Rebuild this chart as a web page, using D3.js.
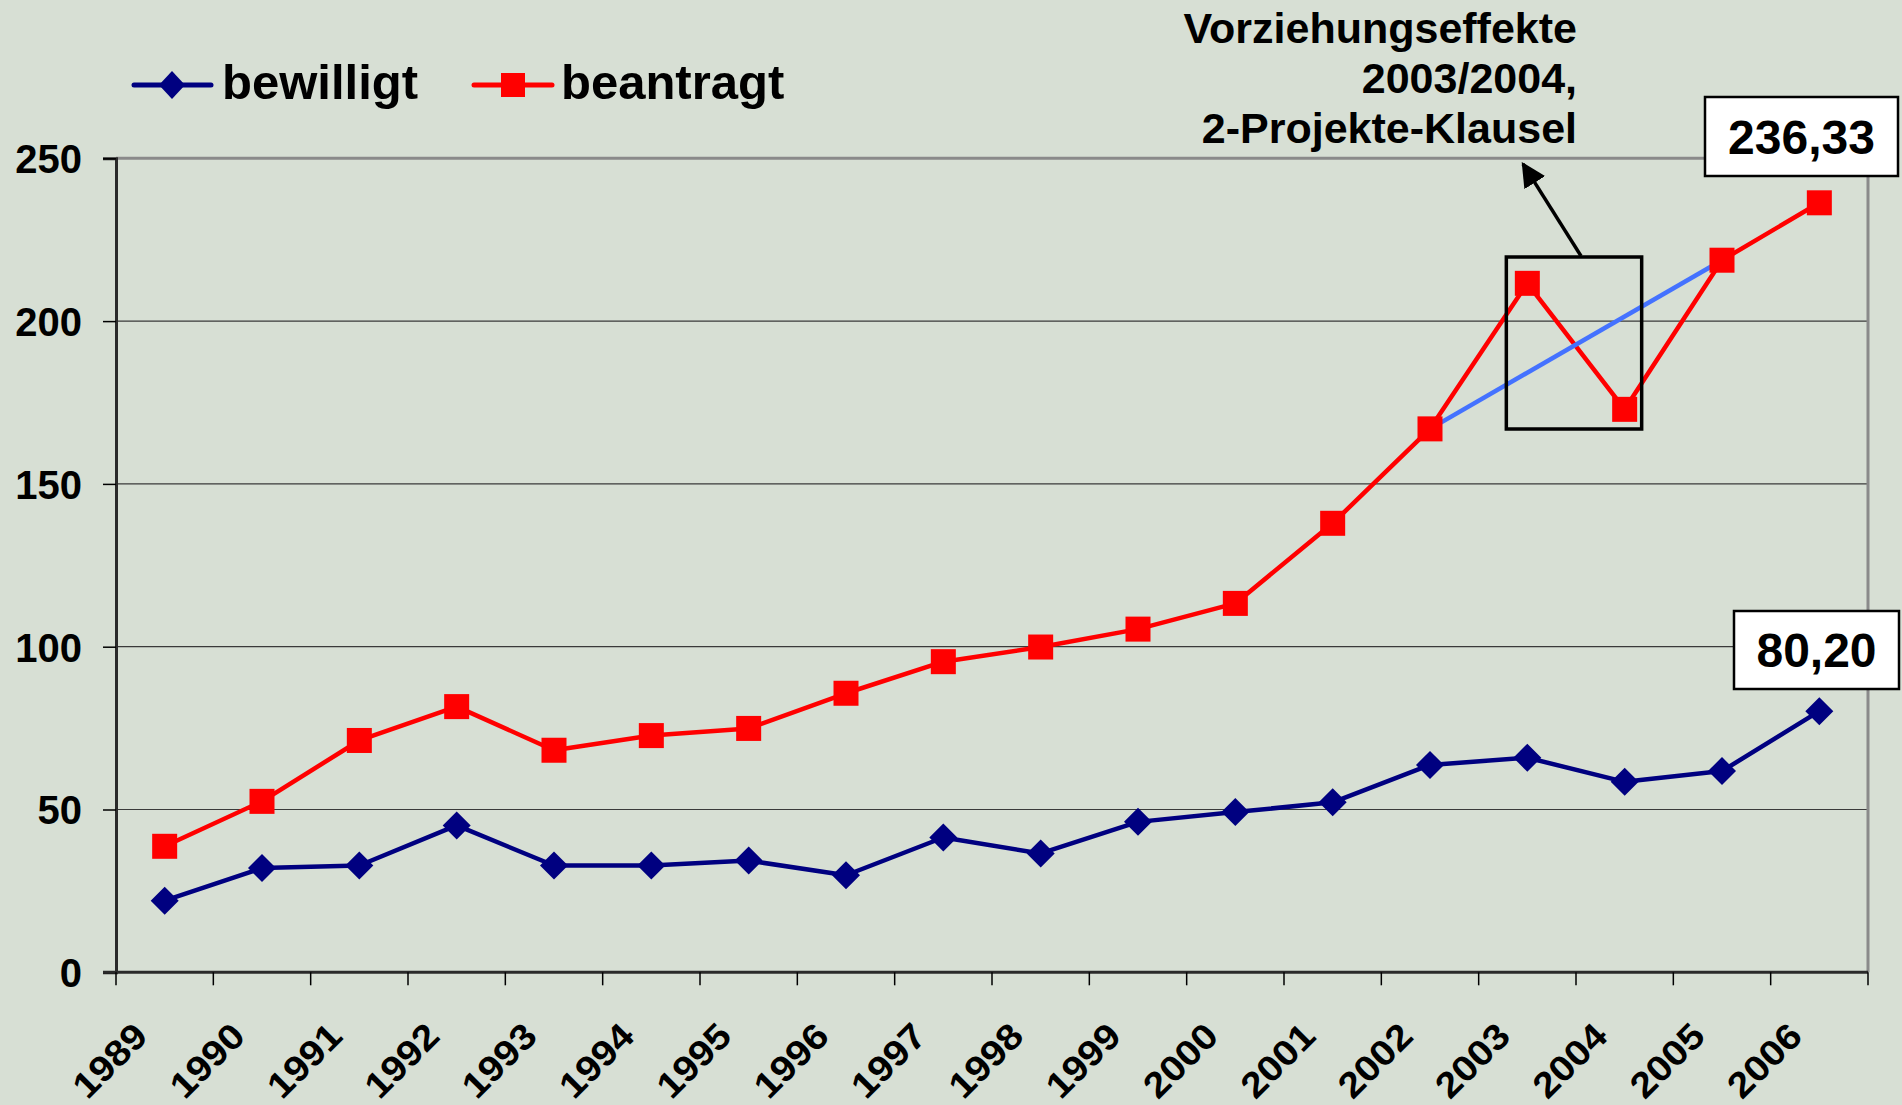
<!DOCTYPE html>
<html><head><meta charset="utf-8">
<script src="https://cdn.jsdelivr.net/npm/d3@7"></script>
<style>
html,body{margin:0;padding:0;background:#d7dfd4;}
svg{display:block;font-family:"Liberation Sans",Arial,sans-serif;font-weight:bold;}
</style></head>
<body>
<svg id="chart" width="1902" height="1105"></svg>
<script>
const years = ["1989","1990","1991","1992","1993","1994","1995","1996","1997","1998","1999","2000","2001","2002","2003","2004","2005","2006"];
const bewilligt = [22.0,32.0,32.8,45.1,32.8,32.8,34.3,29.8,41.4,36.5,46.2,49.2,52.2,63.7,65.9,58.5,61.8,80.20];
const beantragt = [38.7,52.5,71.2,81.6,68.2,72.7,74.9,85.7,95.4,99.9,105.4,113.3,137.9,166.9,211.6,172.9,218.7,236.33];
const yTicks = [0,50,100,150,200,250];
const trendYears = ["2002","2005"];
const annotationLines = ["Vorziehungseffekte","2003/2004,","2-Projekte-Klausel"];
const seriesNames = ["bewilligt","beantragt"];
const lastLabels = ["80,20","236,33"];

const svg = d3.select("#chart");
const L = 116, R = 1868, T = 158.3, B = 972.3;
const x = d3.scaleBand().domain(years).range([L, R]).padding(0);
const y = d3.scaleLinear().domain([0, 250]).range([B, T]);
const cx = d => x(d) + x.bandwidth() / 2;

// gridlines
svg.append("g").selectAll("line").data(yTicks.filter(v => v > 0 && v < 250)).join("line")
  .attr("x1", L).attr("x2", R).attr("y1", d => y(d)).attr("y2", d => y(d))
  .attr("stroke", "#3a3a3a").attr("stroke-width", 1.2);
// plot border top & right (gray)
svg.append("line").attr("x1", L).attr("x2", R).attr("y1", y(250)).attr("y2", y(250))
  .attr("stroke", "#8a8a8a").attr("stroke-width", 3);
svg.append("line").attr("x1", R).attr("x2", R).attr("y1", y(250)).attr("y2", B)
  .attr("stroke", "#8a8a8a").attr("stroke-width", 3);

// y axis
const yAxis = d3.axisLeft(y).tickValues(yTicks).tickSize(13).tickPadding(21);
const gy = svg.append("g").attr("transform", `translate(${L},0)`).call(yAxis);
gy.select(".domain").attr("stroke", "#2a2a2a").attr("stroke-width", 3);
gy.selectAll(".tick line").attr("stroke", "#000").attr("stroke-width", 1.5);
gy.selectAll(".tick text").attr("fill", "#000").style("font-size", "40px").style("font-weight", "bold")
  .style("font-family", "'Liberation Sans', Arial, sans-serif").attr("dy", "0.36em");

// x axis line + ticks at band boundaries
svg.append("line").attr("x1", L - 13).attr("x2", R).attr("y1", B).attr("y2", B)
  .attr("stroke", "#2a2a2a").attr("stroke-width", 3);
const bounds = years.map(d => x(d)).concat([R]);
svg.append("g").selectAll("line").data(bounds).join("line")
  .attr("x1", d => d).attr("x2", d => d).attr("y1", B).attr("y2", B + 13)
  .attr("stroke", "#000").attr("stroke-width", 1.5);
// x labels
svg.append("g").selectAll("text").data(years).join("text")
  .attr("transform", d => `translate(${cx(d) - 15},${B + 66}) rotate(-45) scale(1.1,1)`)
  .attr("text-anchor", "end").attr("font-size", 36).attr("fill", "#000").text(d => d);

// trend line (blue) between 2002 and 2005 beantragt values
const trendPts = trendYears.map(t => [cx(t), y(beantragt[years.indexOf(t)])]);

// lines
const line = d3.line().x((d, i) => cx(years[i])).y(d => y(d));
svg.append("path").datum(beantragt).attr("d", line).attr("fill", "none")
  .attr("stroke", "#ff0000").attr("stroke-width", 4.5).attr("stroke-linejoin", "round");
svg.append("path").datum(bewilligt).attr("d", line).attr("fill", "none")
  .attr("stroke", "#000080").attr("stroke-width", 4.5).attr("stroke-linejoin", "round");

svg.append("line").attr("x1", trendPts[0][0]).attr("y1", trendPts[0][1])
  .attr("x2", trendPts[1][0]).attr("y2", trendPts[1][1])
  .attr("stroke", "#4472ff").attr("stroke-width", 4.5);

// markers
const sq = 25;
svg.append("g").selectAll("rect").data(beantragt).join("rect")
  .attr("x", (d, i) => cx(years[i]) - sq / 2).attr("y", d => y(d) - sq / 2)
  .attr("width", sq).attr("height", sq).attr("fill", "#ff0000");
const dia = 14;
svg.append("g").selectAll("path").data(bewilligt).join("path")
  .attr("d", (d, i) => { const px = cx(years[i]), py = y(d); return `M${px},${py - dia}L${px + dia},${py}L${px},${py + dia}L${px - dia},${py}Z`; })
  .attr("fill", "#000080");

// highlight box and arrow
const bx0 = cx("2003") - 21, bx1 = cx("2004") + 17;
svg.append("rect").attr("x", bx0).attr("y", 257).attr("width", bx1 - bx0).attr("height", 172)
  .attr("fill", "none").attr("stroke", "#000").attr("stroke-width", 3.5);
svg.append("defs").append("marker").attr("id", "ah").attr("viewBox", "0 0 10 10")
  .attr("refX", 9).attr("refY", 5).attr("markerWidth", 7).attr("markerHeight", 7)
  .attr("markerUnits", "strokeWidth").attr("orient", "auto")
  .append("path").attr("d", "M0,0L10,5L0,10Z").attr("fill", "#000");
svg.append("line").attr("x1", 1581).attr("y1", 256).attr("x2", 1523).attr("y2", 164)
  .attr("stroke", "#000").attr("stroke-width", 3.5).attr("marker-end", "url(#ah)");

// annotation text
svg.append("g").selectAll("text").data(annotationLines).join("text")
  .attr("x", 1577).attr("y", (d, i) => 43 + i * 50).attr("text-anchor", "end")
  .attr("font-size", 43).attr("fill", "#000").text(d => d);

// value boxes
function valueBox(txt, x0, y0, w, h) {
  svg.append("rect").attr("x", x0).attr("y", y0).attr("width", w).attr("height", h)
    .attr("fill", "#fff").attr("stroke", "#000").attr("stroke-width", 2.5);
  svg.append("text").attr("x", x0 + w / 2).attr("y", y0 + h / 2).attr("dy", "0.36em")
    .attr("text-anchor", "middle").attr("font-size", 48).attr("fill", "#000").text(txt);
}
valueBox(lastLabels[1], 1705, 97, 193, 79);
valueBox(lastLabels[0], 1734, 611, 165, 78);

// legend
const lg = svg.append("g");
lg.append("line").attr("x1", 134).attr("x2", 211).attr("y1", 85).attr("y2", 85)
  .attr("stroke", "#000080").attr("stroke-width", 5).attr("stroke-linecap", "round");
lg.append("path").attr("d", "M172,71L185,85L172,99L159,85Z").attr("fill", "#000080");
lg.append("text").attr("x", 222).attr("y", 99).attr("font-size", 49).attr("fill", "#000").text(seriesNames[0]);
lg.append("line").attr("x1", 474).attr("x2", 552).attr("y1", 85).attr("y2", 85)
  .attr("stroke", "#ff0000").attr("stroke-width", 5).attr("stroke-linecap", "round");
lg.append("rect").attr("x", 501).attr("y", 73).attr("width", 24).attr("height", 24).attr("fill", "#ff0000");
lg.append("text").attr("x", 561).attr("y", 99).attr("font-size", 49).attr("fill", "#000").text(seriesNames[1]);
</script>
</body></html>
